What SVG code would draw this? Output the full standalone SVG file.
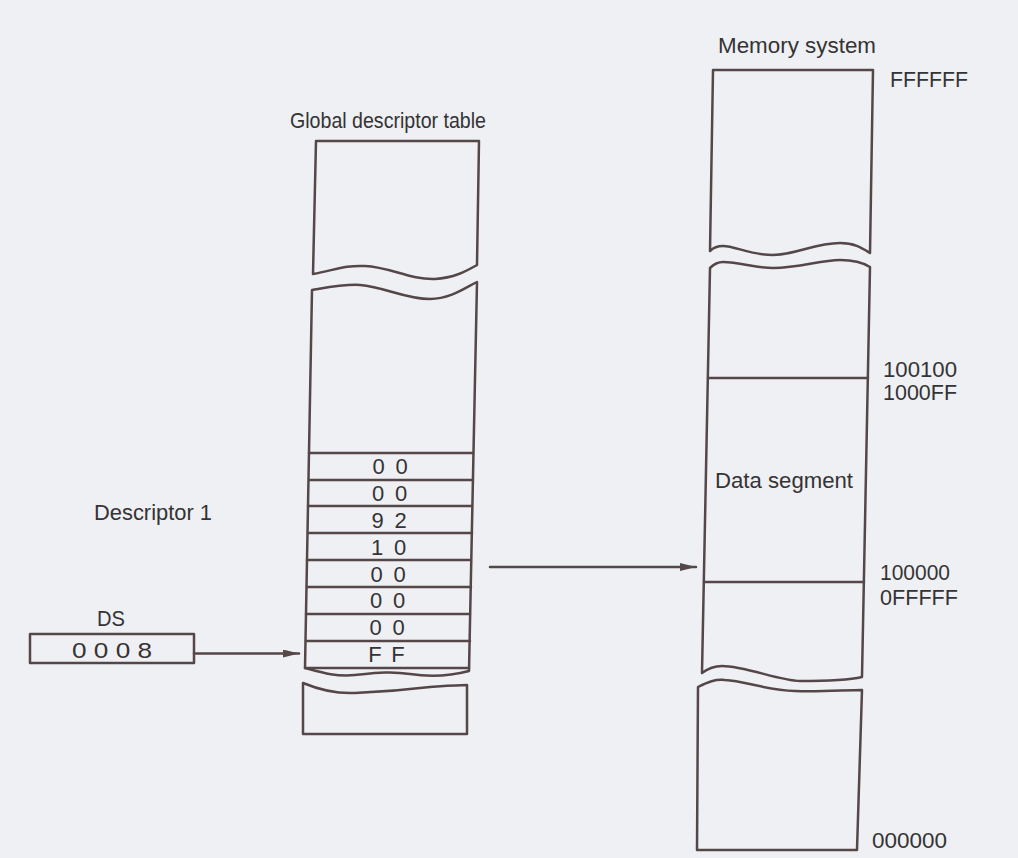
<svg xmlns="http://www.w3.org/2000/svg" width="1018" height="858" viewBox="0 0 1018 858">
<defs>
<style>
.ln{fill:none;stroke:#554648;stroke-width:2.5;stroke-linejoin:round;stroke-linecap:round}
.bx{fill:#eef0f3;stroke:#554648;stroke-width:2.5;stroke-linejoin:round}
.t{font-family:"Liberation Sans",Arial,Helvetica,sans-serif;font-size:22px;fill:#353334}
.d{font-family:"Liberation Sans",Arial,Helvetica,sans-serif;font-size:22px;fill:#353334;text-anchor:middle}
</style>
<marker id="ah" viewBox="0 0 16 8" refX="16" refY="4" markerWidth="16" markerHeight="8" markerUnits="userSpaceOnUse" orient="auto">
<path d="M0,0 L16,4 L0,8 Z" fill="#554648"/>
</marker>
</defs>
<rect x="0" y="0" width="1018" height="858" fill="#eef0f3"/>

<g id="gdt">
<text class="t" x="290" y="128" textLength="196" lengthAdjust="spacingAndGlyphs">Global descriptor table</text>
<path class="bx" d="M316,141 L479,141 L477,265 C468,270 455,278 435,279 C410,280 390,267 365,266 C345,265 335,270 313,274 Z"/>
<path class="bx" d="M312,290 C330,287 345,284 360,285 C385,287 405,299 430,299 C450,299 465,288 477,282 L469,671 C450,676 430,677 410,674 C390,671 375,673 355,675 C335,677 320,672 305,668 Z"/>
<g class="ln">
<line x1="309" y1="453" x2="473" y2="453"/>
<line x1="309" y1="480" x2="473" y2="480"/>
<line x1="308" y1="506" x2="472" y2="506"/>
<line x1="308" y1="533" x2="472" y2="533"/>
<line x1="307" y1="560" x2="471" y2="560"/>
<line x1="307" y1="587" x2="471" y2="587"/>
<line x1="306" y1="614" x2="470" y2="614"/>
<line x1="306" y1="641" x2="470" y2="641"/>
<line x1="305" y1="668" x2="469" y2="668"/>
</g>
<text class="d" x="378.5 390 401.5" y="474">0 0</text>
<text class="d" x="378 389.5 401" y="501">0 0</text>
<text class="d" x="377.5 389 400.5" y="527.5">9 2</text>
<text class="d" x="377 388.5 400" y="554.5">1 0</text>
<text class="d" x="376.5 388 399.5" y="581.5">0 0</text>
<text class="d" x="376 387.5 399" y="608">0 0</text>
<text class="d" x="375.5 387 398.5" y="635">0 0</text>
<text class="d" x="375 386.5 398" y="662">F F</text>
<path class="bx" d="M303,683 C320,690 335,694 355,693 C380,692 405,690 430,687 C445,686 458,685 467,685 L467,734 L303,734 Z"/>
</g>

<g id="descriptor-label">
<text class="t" x="94" y="520" textLength="118" lengthAdjust="spacingAndGlyphs">Descriptor 1</text>
</g>

<g id="ds-register">
<text class="t" x="97" y="626" textLength="28" lengthAdjust="spacingAndGlyphs">DS</text>
<rect class="bx" x="30" y="634" width="164" height="29"/>
<text class="t" x="72" y="658" textLength="80" lengthAdjust="spacingAndGlyphs">0 0 0 8</text>
</g>

<g id="memory">
<text class="t" x="718" y="53" textLength="158" lengthAdjust="spacingAndGlyphs">Memory system</text>
<text class="t" x="890" y="87" textLength="78" lengthAdjust="spacingAndGlyphs">FFFFFF</text>
<path class="bx" d="M713,70 L873,70 L870,253 C862,248 855,243 840,243 C815,243 795,255 773,255 C750,255 735,246 723,246 C717,246 713,248 710,251 Z"/>
<path class="bx" d="M710,268 C714,264 718,262 723,262 C740,262 755,268 773,268 C800,268 820,260 840,260 C852,260 862,262 870,267 L862,677 C845,681 820,681 800,681 C780,681 745,666 722,666 C712,666 706,670 702,673 Z"/>
<g class="ln">
<line x1="708" y1="378" x2="868" y2="378"/>
<line x1="704" y1="582" x2="864" y2="582"/>
</g>
<text class="t" x="883" y="377" textLength="74" lengthAdjust="spacingAndGlyphs">100100</text>
<text class="t" x="883" y="400" textLength="74" lengthAdjust="spacingAndGlyphs">1000FF</text>
<text class="t" x="715" y="488" textLength="138" lengthAdjust="spacingAndGlyphs">Data segment</text>
<text class="t" x="880" y="580" textLength="70" lengthAdjust="spacingAndGlyphs">100000</text>
<text class="t" x="880" y="605" textLength="78" lengthAdjust="spacingAndGlyphs">0FFFFF</text>
<path class="bx" d="M698,687 C708,682 715,679 725,680 C745,681 765,690 795,691 C820,692 845,690 862,690 L857,850 L697,850 Z"/>
<text class="t" x="872" y="848" textLength="75" lengthAdjust="spacingAndGlyphs">000000</text>
</g>

<g id="connectors">
<line class="ln" x1="194" y1="653.5" x2="299" y2="653.5" marker-end="url(#ah)"/>
<line class="ln" x1="490" y1="567" x2="696" y2="567" marker-end="url(#ah)"/>
</g>
</svg>
